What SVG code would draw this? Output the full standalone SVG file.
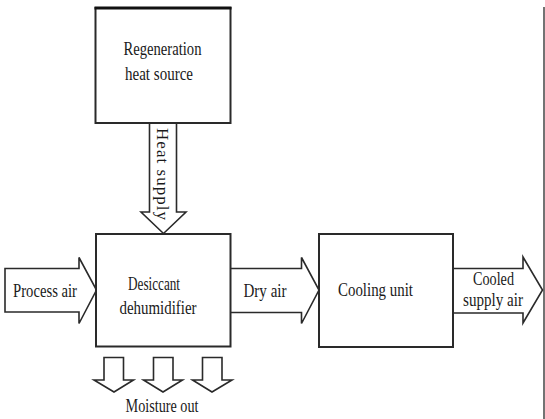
<svg xmlns="http://www.w3.org/2000/svg" width="545" height="419" viewBox="0 0 545 419">
<style>
.box{fill:#fff;stroke:#2a2a2a;stroke-width:2}
.arr{fill:#fff;stroke:#2a2a2a;stroke-width:1.6;stroke-linejoin:miter}
.t{font-family:"Liberation Serif","Times New Roman",serif;font-size:18px;fill:#1a1a1a}
</style>
<rect width="545" height="419" fill="#fff"/>
<line x1="544" y1="7" x2="544" y2="419" stroke="#444" stroke-width="1.5"/>
<g id="connectors">
  <g id="heat-supply">
    <polygon class="arr" points="149.5,123 176.5,123 176.5,212 186,212 163.5,233.5 141,212 149.5,212"/>
    <text class="t" transform="translate(156.5,128) rotate(90)" textLength="92" lengthAdjust="spacing" style="font-size:17px">Heat supply</text>
  </g>
  <g id="process-air">
    <polygon class="arr" points="5,268.5 79,268.5 79,257.5 96.5,290 79,323.5 79,312 5,312"/>
    <text class="t" x="45" y="297" text-anchor="middle" textLength="64" lengthAdjust="spacingAndGlyphs">Process air</text>
  </g>
  <g id="dry-air">
    <polyline class="arr" points="230.5,268.5 301.5,268.5 301.5,257.5 319,290 301.5,323.5 301.5,312.5 230.5,312.5"/>
    <text class="t" x="265" y="296.5" text-anchor="middle" textLength="43" lengthAdjust="spacingAndGlyphs">Dry air</text>
  </g>
  <g id="cooled-supply-air">
    <polyline class="arr" points="453,268.5 523,268.5 523,257 542.5,290 523,323 523,313 453,313"/>
    <text class="t" x="493.5" y="285" text-anchor="middle" textLength="41" lengthAdjust="spacingAndGlyphs">Cooled</text>
    <text class="t" x="493" y="306" text-anchor="middle" textLength="60" lengthAdjust="spacingAndGlyphs">supply air</text>
  </g>
  <g id="moisture-out">
    <polygon class="arr" points="104,357.5 123.5,357.5 123.5,380 133.5,380 114,392 94,380 104,380"/>
    <polygon class="arr" points="153.5,357.5 173,357.5 173,380 182.5,380 163,392 143.5,380 153.5,380"/>
    <polygon class="arr" points="202.5,357.5 222,357.5 222,380 232,380 212,392 192.5,380 202.5,380"/>
    <text class="t" x="162" y="412" text-anchor="middle" textLength="73" lengthAdjust="spacingAndGlyphs">Moisture out</text>
  </g>
</g>
<g id="regeneration-heat-source">
  <rect class="box" x="95.5" y="8" width="135" height="115"/>
  <line x1="94.5" y1="8" x2="231.5" y2="8" stroke="#111" stroke-width="3"/>
  <text class="t" x="162.5" y="55" text-anchor="middle" textLength="78" lengthAdjust="spacingAndGlyphs">Regeneration</text>
  <text class="t" x="159" y="80" text-anchor="middle" textLength="68" lengthAdjust="spacingAndGlyphs">heat source</text>
</g>
<g id="desiccant-dehumidifier">
  <rect class="box" x="96" y="234" width="134.5" height="112.5"/>
  <text class="t" x="154" y="289.5" text-anchor="middle" textLength="52" lengthAdjust="spacingAndGlyphs">Desiccant</text>
  <text class="t" x="158" y="313.5" text-anchor="middle" textLength="77" lengthAdjust="spacingAndGlyphs">dehumidifier</text>
</g>
<g id="cooling-unit">
  <rect class="box" x="319" y="234" width="134" height="113"/>
  <text class="t" x="375.5" y="296" text-anchor="middle" textLength="75" lengthAdjust="spacingAndGlyphs">Cooling unit</text>
</g>
</svg>
